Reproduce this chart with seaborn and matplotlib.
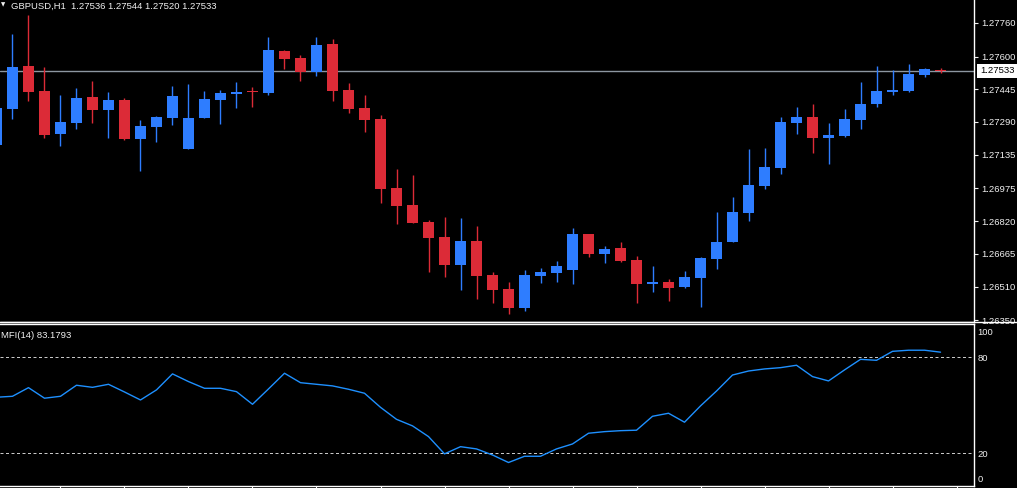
import numpy as np
import pandas as pd
import matplotlib
matplotlib.use('Agg')
import matplotlib.pyplot as plt
import matplotlib.transforms as mtransforms
from matplotlib.lines import Line2D
import seaborn as sns

# GBPUSD H1 candles (bar -1 is the partial one at the left edge)
symbol = 'GBPUSD,H1'
bars = list(range(-1, 59))
opens = [1.27180, 1.27352, 1.27555, 1.27436, 1.27234, 1.27284, 1.27408, 1.27347, 1.27393, 1.27210,
         1.27267, 1.27309, 1.27162, 1.27309, 1.27395, 1.27423, 1.27438, 1.27428, 1.27626, 1.27593,
         1.27528, 1.27659, 1.27441, 1.27356, 1.27303, 1.26976, 1.26895, 1.26815, 1.26744, 1.26612,
         1.26725, 1.26563, 1.26497, 1.26408, 1.26560, 1.26574, 1.26589, 1.26758, 1.26664, 1.26692,
         1.26635, 1.26522, 1.26530, 1.26508, 1.26551, 1.26641, 1.26721, 1.26859, 1.26987, 1.27072,
         1.27286, 1.27313, 1.27215, 1.27224, 1.27300, 1.27376, 1.27433, 1.27438, 1.27513, 1.27536]
highs = [1.27370, 1.27706, 1.27797, 1.27550, 1.27417, 1.27450, 1.27483, 1.27431, 1.27403, 1.27299,
         1.27318, 1.27460, 1.27469, 1.27436, 1.27441, 1.27479, 1.27455, 1.27692, 1.27632, 1.27607,
         1.27692, 1.27683, 1.27474, 1.27417, 1.27322, 1.27066, 1.27038, 1.26824, 1.26838, 1.26834,
         1.26796, 1.26578, 1.26530, 1.26587, 1.26598, 1.26630, 1.26786, 1.26760, 1.26701, 1.26720,
         1.26654, 1.26606, 1.26544, 1.26582, 1.26649, 1.26862, 1.26933, 1.27161, 1.27166, 1.27314,
         1.27360, 1.27375, 1.27284, 1.27352, 1.27479, 1.27555, 1.27536, 1.27564, 1.27545, 1.27544]
lows = [1.27175, 1.27305, 1.27390, 1.27215, 1.27177, 1.27257, 1.27284, 1.27215, 1.27205, 1.27058,
        1.27196, 1.27275, 1.27162, 1.27309, 1.27281, 1.27357, 1.27362, 1.27419, 1.27540, 1.27485,
        1.27509, 1.27390, 1.27333, 1.27243, 1.26906, 1.26807, 1.26811, 1.26579, 1.26555, 1.26494,
        1.26451, 1.26432, 1.26380, 1.26394, 1.26527, 1.26532, 1.26522, 1.26650, 1.26622, 1.26627,
        1.26432, 1.26484, 1.26442, 1.26503, 1.26413, 1.26593, 1.26721, 1.26821, 1.26973, 1.27044,
        1.27234, 1.27143, 1.27091, 1.27219, 1.27257, 1.27362, 1.27419, 1.27433, 1.27504, 1.27520]
closes = [1.27356, 1.27550, 1.27433, 1.27227, 1.27289, 1.27403, 1.27347, 1.27393, 1.27210, 1.27270,
          1.27313, 1.27412, 1.27308, 1.27398, 1.27427, 1.27431, 1.27430, 1.27631, 1.27589, 1.27528,
          1.27654, 1.27438, 1.27351, 1.27300, 1.26971, 1.26892, 1.26811, 1.26740, 1.26612, 1.26725,
          1.26560, 1.26494, 1.26408, 1.26563, 1.26578, 1.26606, 1.26758, 1.26664, 1.26687, 1.26631,
          1.26522, 1.26530, 1.26503, 1.26554, 1.26644, 1.26720, 1.26862, 1.26990, 1.27076, 1.27289,
          1.27313, 1.27215, 1.27229, 1.27303, 1.27374, 1.27436, 1.27442, 1.27517, 1.27540, 1.27533]
mfi = [55.0, 55.6, 61.0, 54.4, 55.6, 62.5, 61.2, 63.1, 58.3, 53.3,
       59.6, 69.6, 64.8, 60.6, 60.6, 58.5, 50.6, 60.2, 70.0, 64.1,
       63.1, 62.1, 60.0, 57.5, 48.7, 41.2, 37.1, 30.4, 19.6, 24.1,
       22.7, 18.9, 14.2, 18.1, 18.1, 22.7, 25.8, 32.5, 33.5, 34.1,
       34.4, 43.1, 45.0, 39.4, 49.6, 58.9, 68.9, 71.4, 72.7, 73.5,
       75.0, 67.9, 65.2, 72.1, 78.7, 78.1, 83.7, 84.4, 84.4, 83.1793]

price_ticks = [1.27760, 1.27600, 1.27445, 1.27290, 1.27135, 1.26975, 1.26820, 1.26665, 1.26510, 1.26350]
mfi_ticks = [0, 20, 80, 100]
mfi_levels = [20, 80]
last_price = 1.27533
time_ticks = list(range(3, 60, 4))

BULL = '#2e7dff'
BEAR = '#dc2b37'
MFI_COLOR = '#1e90ff'
FG = '#f0f0f0'

sns.set_theme(style='dark', rc={'axes.facecolor': 'black', 'figure.facecolor': 'black',
                               'savefig.facecolor': 'black', 'axes.grid': False})
plt.rcParams['font.family'] = ['Liberation Sans', 'DejaVu Sans']
FS = 6.8

df = pd.DataFrame({'bar': bars, 'open': opens, 'high': highs, 'low': lows,
                   'close': closes, 'mfi': mfi})

fig = plt.figure(figsize=(10.17, 4.88), dpi=100)
ax = fig.add_axes([0, 0.3395, 0.9577, 0.6605])
ax2 = fig.add_axes([0, 0.0047, 0.9577, 0.3314])

xlim = (-0.78, 60.09)

# --- candles ---
up = df['close'] > df['open']
colors = np.where(up, BULL, BEAR)
body_lo = df[['open', 'close']].min(axis=1)
body_h = (df['close'] - df['open']).abs().clip(lower=0.00004)
ax.vlines(df['bar'], df['low'], df['high'], colors=colors, lw=1.0, zorder=2)
ax.bar(df['bar'], body_h, bottom=body_lo, width=0.68, color=colors, linewidth=0, zorder=3)
ax.axhline(last_price, color='#8c96a0', lw=1.0, zorder=1)

ax.set_xlim(*xlim)
ax.set_ylim(1.263406, 1.278677)
ax.yaxis.tick_right()
ax.set_yticks(price_ticks)
ax.set_yticklabels([f'{p:.5f}' for p in price_ticks])
ax.tick_params(axis='y', colors=FG, labelcolor=FG, labelsize=FS, direction='out',
               length=3, width=0.8, pad=2.5, left=False, right=True)
ax.tick_params(axis='x', bottom=False, labelbottom=False)
for side in ['left', 'top']:
    ax.spines[side].set_visible(False)
for side in ['right', 'bottom']:
    ax.spines[side].set_color('white')
    ax.spines[side].set_linewidth(1.0)
ax.set_xlabel('')
ax.set_ylabel('')

# current price tag
tag_tr = mtransforms.blended_transform_factory(ax.transAxes, ax.transData)
ax.text(1.006, last_price, f'{last_price:.5f}', transform=tag_tr, ha='left', va='center',
        fontsize=FS, color='black', clip_on=False, zorder=5,
        bbox=dict(boxstyle='square,pad=0.28', fc='white', ec='none'))

ax.text(0.0015, 0.992, '\u25bc', transform=ax.transAxes, ha='left', va='top',
        fontsize=4, color=FG, family=['DejaVu Sans'])
ax.text(0.011, 0.995, f'{symbol}  {opens[-1]:.5f} {highs[-1]:.5f} {lows[-1]:.5f} {closes[-1]:.5f}',
        transform=ax.transAxes, ha='left', va='top', fontsize=FS, color=FG)

# --- MFI window ---
sns.lineplot(data=df, x='bar', y='mfi', ax=ax2, color=MFI_COLOR, lw=1.0, zorder=3)
for lvl in mfi_levels:
    ax2.axhline(lvl, color='#c8c8c8', lw=0.72, ls=(0, (3, 2.5)), zorder=1)

ax2.set_xlim(*xlim)
ax2.set_ylim(-0.3, 100.8)
ax2.yaxis.tick_right()
ax2.set_yticks(mfi_ticks)
ax2.set_yticklabels([str(t) for t in mfi_ticks])
ax2.tick_params(axis='y', colors=FG, labelcolor=FG, labelsize=FS, length=0, pad=2.5,
                left=False, right=True)
# terminal keeps the 0 / 100 captions inside the window
lbls = ax2.get_yticklabels()
lbls[0].set_transform(lbls[0].get_transform() + mtransforms.ScaledTranslation(0, 4.5 / 72, fig.dpi_scale_trans))
lbls[-1].set_transform(lbls[-1].get_transform() + mtransforms.ScaledTranslation(0, -4.5 / 72, fig.dpi_scale_trans))
ax2.set_xticks(time_ticks)
ax2.tick_params(axis='x', bottom=True, labelbottom=False, direction='out', length=3,
                width=0.8, color='white')
for side in ['left']:
    ax2.spines[side].set_visible(False)
for side in ['right', 'top', 'bottom']:
    ax2.spines[side].set_color('white')
    ax2.spines[side].set_linewidth(1.0)
ax2.set_xlabel('')
ax2.set_ylabel('')
ax2.text(0.001, 0.955, f'MFI(14) {mfi[-1]:.4f}', transform=ax2.transAxes, ha='left', va='top',
         fontsize=FS, color=FG)

# separator under the price window runs across the label strip too
fig.add_artist(Line2D([0, 1], [0.3395, 0.3395], transform=fig.transFigure, color='white', lw=1.0))

fig.savefig('out.png', dpi=100, facecolor='black')
